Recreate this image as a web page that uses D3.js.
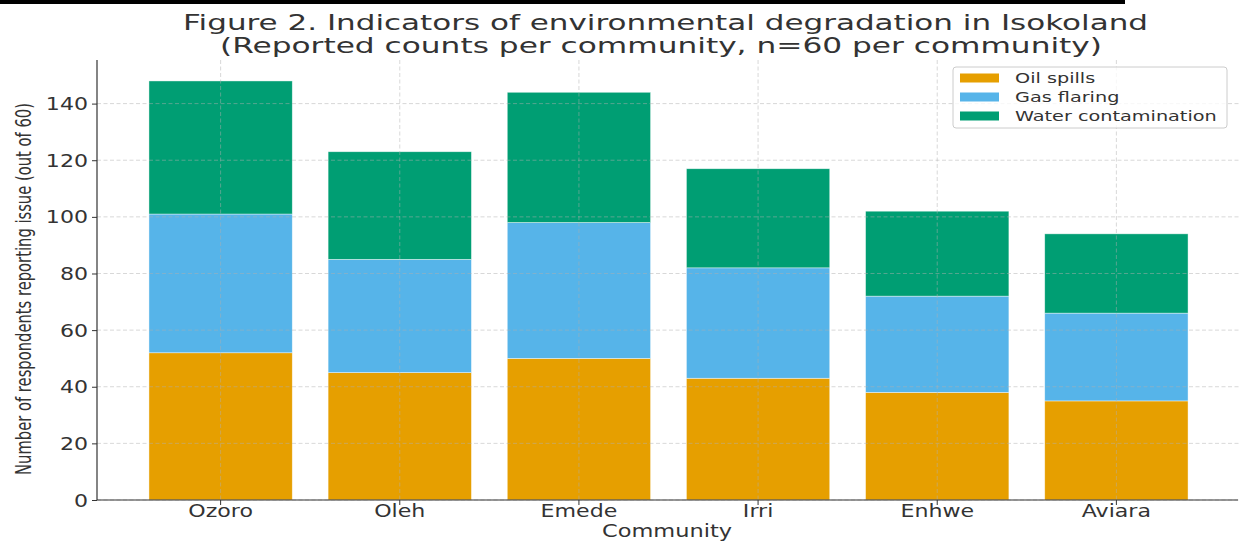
<!DOCTYPE html>
<html>
<head>
<meta charset="utf-8">
<script src="https://cdn.jsdelivr.net/npm/d3@7"></script>
<style>
  html, body { margin: 0; padding: 0; background: #fff; }
  svg { display: block; }
  text { font-family: "DejaVu Sans", sans-serif; fill: #333; }
</style>
</head>
<body>
<svg id="chart" width="1242" height="542"></svg>
<script>
// ---- data ----
const communities = ["Ozoro", "Oleh", "Emede", "Irri", "Enhwe", "Aviara"];
const oilSpills = [52, 45, 50, 43, 38, 35];
const gasFlaring = [49, 40, 48, 39, 34, 31];
const waterContamination = [47, 38, 46, 35, 30, 28];
const seriesNames = ["Oil spills", "Gas flaring", "Water contamination"];
const seriesColors = ["#E69F00", "#56B4E9", "#009E73"];
const yTicks = [0, 20, 40, 60, 80, 100, 120, 140];
const titleLines = ["Figure 2. Indicators of environmental degradation in Isokoland",
                    "(Reported counts per community, n=60 per community)"];
const xLabel = "Community";
const yLabel = "Number of respondents reporting issue (out of 60)";

(function() {
// ---- layout ----
const svg = d3.select("#chart");
const pLeft = 97, pRight = 1240, pTop = 60, pBottom = 500;
const SX = 1.3; // horizontal glyph stretch seen in the reference

const rows = communities.map((c, i) => ({
  community: c,
  "Oil spills": oilSpills[i],
  "Gas flaring": gasFlaring[i],
  "Water contamination": waterContamination[i]
}));
const stacked = d3.stack().keys(seriesNames)(rows);
const maxTotal = d3.max(rows, d => d["Oil spills"] + d["Gas flaring"] + d["Water contamination"]);

const x = d3.scaleBand().domain(communities).range([pLeft, pRight])
  .paddingInner(0.2).paddingOuter(0.29);
const y = d3.scaleLinear().domain([0, maxTotal * 1.05]).range([pBottom, pTop]);
const color = d3.scaleOrdinal().domain(seriesNames).range(seriesColors);

// top black strip
svg.append("rect").attr("x", 0).attr("y", 0).attr("width", 1125).attr("height", 4).attr("fill", "#000");

// bars
svg.append("g").selectAll("g").data(stacked).join("g")
  .attr("fill", d => color(d.key))
  .selectAll("rect").data(d => d).join("rect")
  .attr("x", d => x(d.data.community))
  .attr("width", x.bandwidth())
  .attr("y", d => y(d[1]))
  .attr("height", d => y(d[0]) - y(d[1]))
  .attr("stroke", "#ffffff").attr("stroke-opacity", 0.6).attr("stroke-width", 0.7);

// grid (drawn over bars)
const grid = svg.append("g").attr("stroke", "#b0b0b0").attr("stroke-opacity", 0.55)
  .attr("stroke-width", 0.9).attr("stroke-dasharray", "4,2.5");
grid.selectAll("line.h").data(yTicks).join("line").attr("class", "h")
  .attr("x1", pLeft).attr("x2", pRight).attr("y1", d => y(d)).attr("y2", d => y(d));
grid.selectAll("line.v").data(communities).join("line").attr("class", "v")
  .attr("x1", d => x(d) + x.bandwidth() / 2).attr("x2", d => x(d) + x.bandwidth() / 2)
  .attr("y1", pTop).attr("y2", pBottom);

// axes
const yAxis = svg.append("g").attr("transform", `translate(${pLeft},0)`)
  .call(d3.axisLeft(y).tickValues(yTicks).tickSize(5).tickPadding(3));
const xAxis = svg.append("g").attr("transform", `translate(0,${pBottom})`)
  .call(d3.axisBottom(x).tickSize(5).tickPadding(4));
[yAxis, xAxis].forEach(a => {
  a.select(".domain").attr("stroke", "#333").attr("stroke-width", 1.2);
  a.selectAll(".tick line").attr("stroke", "#333").attr("stroke-width", 1);
  a.selectAll(".tick text").attr("font-size", 17).attr("fill", "#333");
});
yAxis.select(".domain").attr("d", `M0,${pTop}V${pBottom}`);
xAxis.select(".domain").attr("d", `M${pLeft},0H${pRight - 2}`);
yAxis.selectAll(".tick text").each(function() {
  d3.select(this).attr("x", null).attr("dy", "0.36em").attr("text-anchor", "end")
    .attr("transform", `translate(-9,0) scale(${SX},1)`);
});
xAxis.selectAll(".tick text").each(function() {
  d3.select(this).attr("y", null).attr("dy", null)
    .attr("transform", `translate(0,17) scale(${SX},1)`);
});

// title
svg.append("text").attr("x", 183).attr("y", 30).attr("font-size", 20.5)
  .attr("textLength", 965).attr("lengthAdjust", "spacingAndGlyphs").text(titleLines[0]);
svg.append("text").attr("x", 220).attr("y", 53).attr("font-size", 20.5)
  .attr("textLength", 882).attr("lengthAdjust", "spacingAndGlyphs").text(titleLines[1]);

// axis labels
svg.append("text").attr("x", 602).attr("y", 537).attr("font-size", 17)
  .attr("textLength", 130).attr("lengthAdjust", "spacingAndGlyphs").text(xLabel);
// y label: size so its length is ~372px, then widen glyphs on screen x
const yl = svg.append("text").attr("font-size", 14).attr("text-anchor", "middle").text(yLabel);
const natLen = yl.node().getComputedTextLength() || 400;
const ylSize = 14 * 372 / natLen;
const ylSX = 22 / ylSize;
yl.attr("font-size", ylSize)
  .attr("transform", `translate(${31 - 0}, 289) scale(${ylSX},1) rotate(-90)`);

// legend
const lg = svg.append("g");
lg.append("rect").attr("x", 953).attr("y", 67).attr("width", 274).attr("height", 61)
  .attr("rx", 3).attr("fill", "#fff").attr("fill-opacity", 0.8)
  .attr("stroke", "#cccccc").attr("stroke-width", 1);
const rowY = [78, 97, 116];
seriesNames.forEach((s, i) => {
  lg.append("rect").attr("x", 960).attr("y", rowY[i] - 4.5).attr("width", 39).attr("height", 9)
    .attr("fill", color(s));
  lg.append("text").attr("transform", `translate(1015,${rowY[i] + 5}) scale(${SX},1)`)
    .attr("font-size", 14.8).text(s);
});
})();
</script>
</body>
</html>
